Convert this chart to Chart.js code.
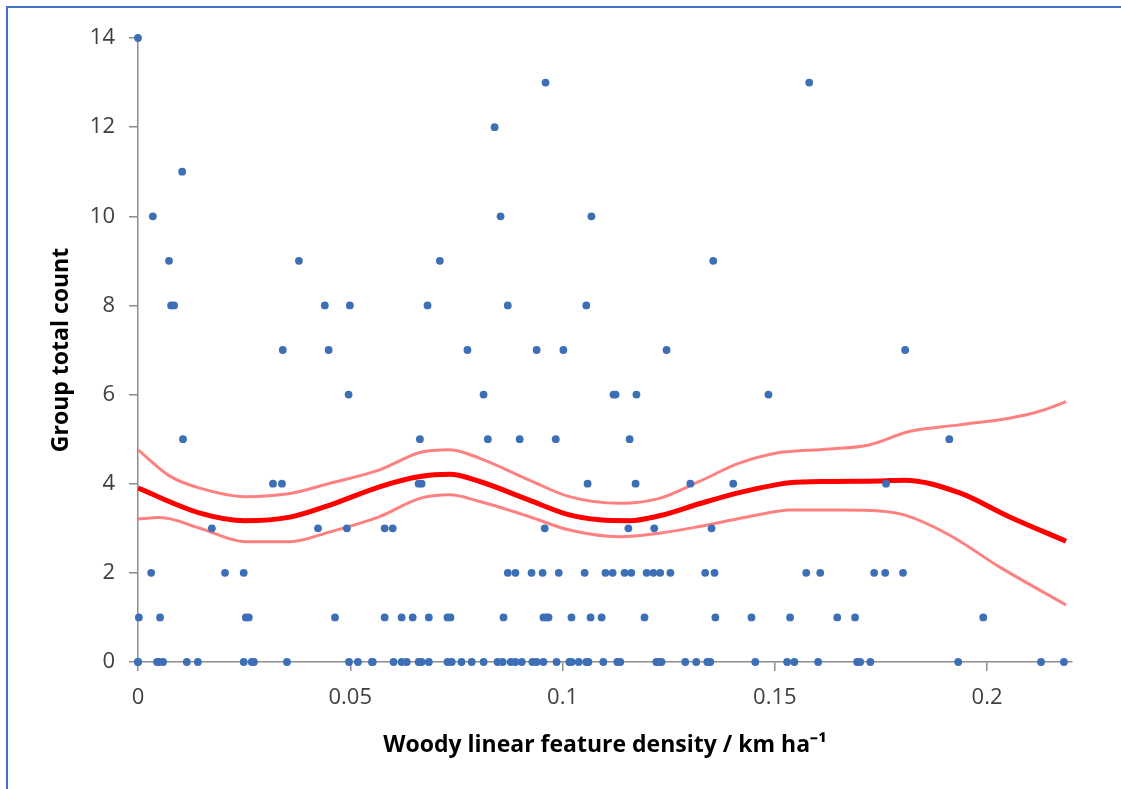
<!DOCTYPE html>
<html>
<head>
<meta charset="utf-8">
<script src="https://cdn.jsdelivr.net/npm/chart.js@4/dist/chart.umd.min.js"></script>
<style>
  html, body { margin: 0; padding: 0; background: #fff; }
  #wrap { position: relative; width: 1121px; height: 789px; overflow: hidden; }
  #frame { position: absolute; left: 6px; top: 6px; width: 1200px; height: 900px;
           border-left: 2px solid #4472c4; border-top: 2px solid #4472c4; }
  canvas { position: absolute; left: 0; top: 0; }
</style>
</head>
<body>
<div id="wrap">
  <div id="frame"></div>
  <canvas id="chart" width="1121" height="789"></canvas>
</div>
<script>
'use strict';

// observed counts, grouped by count value: x = woody linear feature density
const level0 = [0, 0, 0.0045, 0.0049, 0.0059, 0.0115, 0.0141, 0.0249, 0.0268, 0.0273, 0.0351, 0.0497, 0.0518,
  0.0551, 0.0553, 0.0602, 0.0621, 0.0633, 0.0661, 0.0668, 0.0685, 0.0729, 0.0739, 0.0762, 0.0786, 0.0814,
  0.0847, 0.0859, 0.0878, 0.0889, 0.0904, 0.0929, 0.0939, 0.0955, 0.0986, 0.1016, 0.1021, 0.1038, 0.1056,
  0.1061, 0.1096, 0.1129, 0.1136, 0.1221, 0.1228, 0.1233, 0.1289, 0.1315, 0.1341, 0.1348, 0.1454, 0.1529,
  0.1546, 0.1602, 0.1694, 0.1701, 0.1725, 0.1932, 0.2127, 0.2181];
const level1 = [0.0002, 0.0052, 0.0254, 0.0261, 0.0464, 0.0581, 0.0621, 0.0647, 0.0685, 0.0729, 0.0736, 0.0861,
  0.0955, 0.0962, 0.0967, 0.1021, 0.1066, 0.1092, 0.1193, 0.136, 0.1445, 0.1536, 0.1647, 0.1689, 0.1991];
const level2 = [0.0031, 0.0205, 0.0249, 0.0871, 0.0889, 0.0927, 0.0953, 0.0991, 0.1052, 0.1101, 0.1118, 0.1146,
  0.1162, 0.1198, 0.1214, 0.123, 0.1254, 0.1336, 0.1358, 0.1574, 0.1607, 0.1734, 0.176, 0.1802];
const level3 = [0.0174, 0.0424, 0.0492, 0.0581, 0.06, 0.0958, 0.1155, 0.1216, 0.1351];
const level4 = [0.0318, 0.0339, 0.0661, 0.0668, 0.1059, 0.1172, 0.1301, 0.1402, 0.1762];
const level5 = [0.0106, 0.0664, 0.0824, 0.0899, 0.0984, 0.1158, 0.1911];
const level6 = [0.0496, 0.0814, 0.112, 0.1125, 0.1174, 0.1485];
const level7 = [0.0341, 0.0449, 0.0776, 0.0939, 0.1002, 0.1245, 0.1807];
const level8 = [0.0078, 0.0085, 0.044, 0.0499, 0.0682, 0.0871, 0.1056];
const level9 = [0.0073, 0.0379, 0.0711, 0.1355];
const level10 = [0.0035, 0.0854, 0.1068];
const level11 = [0.0104];
const level12 = [0.084];
const level13 = [0.096, 0.1581];
const level14 = [0];
const levels = [level0, level1, level2, level3, level4, level5, level6, level7, level8, level9,
  level10, level11, level12, level13, level14];

// fitted curve and confidence band
const fitX = [0, 0.0146, 0.0252, 0.0358, 0.0452, 0.0569, 0.0664, 0.0734, 0.0805, 0.0922, 0.1016, 0.1087,
  0.1158, 0.1228, 0.1322, 0.1416, 0.1511, 0.1534, 0.1628, 0.1746, 0.1805, 0.1934, 0.2052, 0.2186];
const fitY = [3.9, 3.34, 3.17, 3.25, 3.52, 3.93, 4.16, 4.21, 4.05, 3.63, 3.3, 3.19,
  3.17, 3.28, 3.55, 3.8, 3.99, 4.02, 4.05, 4.06, 4.08, 3.8, 3.26, 2.71];
const upperX = [0, 0.0075, 0.0146, 0.0252, 0.0358, 0.0452, 0.0569, 0.0664, 0.0734, 0.0805, 0.0922, 0.1016,
  0.1134, 0.1228, 0.1322, 0.1416, 0.1511, 0.1534, 0.1628, 0.1722, 0.1816, 0.1934, 0.2052, 0.2122, 0.2186];
const upperY = [4.76, 4.17, 3.9, 3.71, 3.78, 4.01, 4.31, 4.7, 4.76, 4.57, 4.08, 3.71,
  3.56, 3.67, 4.05, 4.46, 4.7, 4.72, 4.78, 4.87, 5.17, 5.32, 5.47, 5.62, 5.84];
const lowerX = [0, 0.0052, 0.0146, 0.0252, 0.0358, 0.0452, 0.0569, 0.0664, 0.0734, 0.0805, 0.0922, 0.1016,
  0.1134, 0.1228, 0.1322, 0.1416, 0.1511, 0.1534, 0.1652, 0.1746, 0.1805, 0.1911, 0.2028, 0.2186];
const lowerY = [3.21, 3.24, 3.0, 2.7, 2.7, 2.92, 3.26, 3.67, 3.75, 3.6, 3.26, 2.96,
  2.81, 2.89, 3.04, 3.22, 3.39, 3.41, 3.41, 3.39, 3.3, 2.85, 2.14, 1.28];

const xTicks = [0, 0.05, 0.1, 0.15, 0.2];
const xTickLabels = ['0', '0.05', '0.1', '0.15', '0.2'];
const yTicks = [0, 2, 4, 6, 8, 10, 12, 14];

const AXIS_COLOR = '#8c8c8c';
const TEXT_COLOR = '#404040';

const pairs = (xs, ys) => xs.map((x, i) => ({ x, y: ys[i] }));
const points = [];
levels.forEach((xs, count) => xs.forEach(x => points.push({ x, y: count })));

const lineStyle = (color, width) => ({
  type: 'line',
  borderColor: color,
  borderWidth: width,
  pointRadius: 0,
  fill: false,
  tension: 0.4,
  cubicInterpolationMode: 'monotone'
});

new Chart(document.getElementById('chart'), {
  type: 'scatter',
  data: {
    datasets: [
      {
        label: 'Group total count',
        data: points,
        backgroundColor: '#3d6fb6',
        borderColor: '#3d6fb6',
        pointRadius: 3.9,
        pointBorderWidth: 0,
        clip: false,
        order: 0
      },
      Object.assign({ label: 'fit', data: pairs(fitX, fitY), order: 1 }, lineStyle('#ff0000', 5)),
      Object.assign({ label: 'upper', data: pairs(upperX, upperY), order: 2 }, lineStyle('#ff8080', 3)),
      Object.assign({ label: 'lower', data: pairs(lowerX, lowerY), order: 2 }, lineStyle('#ff8080', 3))
    ]
  },
  options: {
    responsive: false,
    animation: false,
    layout: { padding: { top: 38, right: 49, bottom: 0, left: 0 } },
    plugins: {
      legend: { display: false },
      tooltip: { enabled: false }
    },
    scales: {
      x: {
        type: 'linear',
        min: 0,
        max: 0.22,
        afterFit: scale => { scale.height = 127; },
        afterBuildTicks: scale => { scale.ticks = xTicks.map(v => ({ value: v })); },
        border: { color: AXIS_COLOR, width: 1.5 },
        grid: { drawOnChartArea: false, color: AXIS_COLOR, tickLength: 9, lineWidth: 1.5 },
        ticks: {
          padding: 14,
          color: TEXT_COLOR,
          font: { family: 'Open Sans', size: 22 },
          callback: (v, i) => xTickLabels[i]
        },
        title: {
          display: true,
          text: 'Woody linear feature density / km ha\u207B\u00B9',
          color: '#000',
          font: { family: 'Open Sans', size: 23, weight: 'bold' },
          padding: { top: 0, bottom: 30 }
        }
      },
      y: {
        type: 'linear',
        min: 0,
        max: 14,
        afterFit: scale => { scale.width = 138; },
        afterBuildTicks: scale => { scale.ticks = yTicks.map(v => ({ value: v })); },
        border: { color: AXIS_COLOR, width: 1.5 },
        grid: { drawOnChartArea: false, color: AXIS_COLOR, tickLength: 9, lineWidth: 1.5 },
        ticks: {
          padding: 14,
          color: TEXT_COLOR,
          font: { family: 'Open Sans', size: 22 }
        },
        title: {
          display: true,
          text: 'Group total count',
          color: '#000',
          font: { family: 'Open Sans', size: 23, weight: 'bold' },
          padding: { top: 48, bottom: 0 }
        }
      }
    }
  }
});
</script>
</body>
</html>
